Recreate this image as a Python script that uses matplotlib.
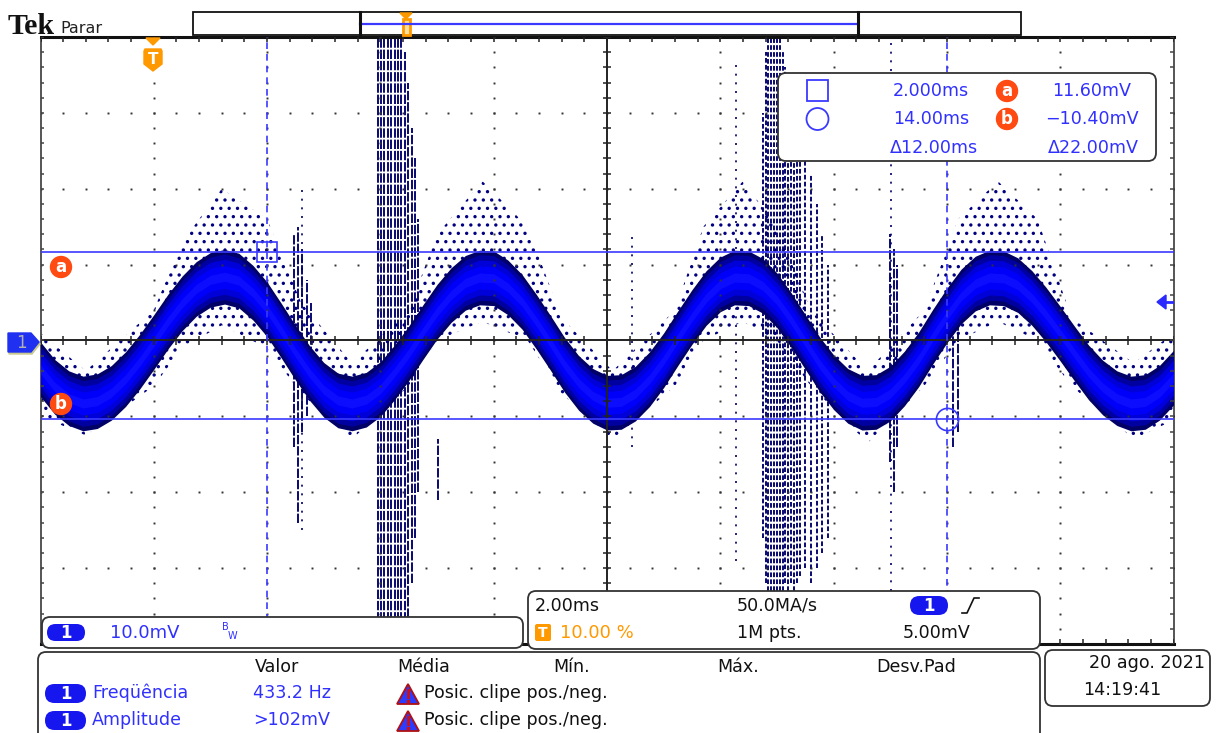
import numpy as np
import matplotlib
matplotlib.use("Agg")
import matplotlib.pyplot as plt
from matplotlib.patches import FancyBboxPatch, Polygon, Rectangle, Circle

plt.rcParams["font.family"] = ["DejaVu Sans"]
plt.rcParams["hatch.linewidth"] = 1.2

W, H = 1217, 733

# scope settings
t_div = 2.0      # ms / div
v_div = 10.0     # mV / div
t_left, t_right = -2.0, 18.0
v_low, v_high = -40.0, 40.0

# centre of the trace band, read every 0.25 ms
trace_t = np.linspace(-2.0, 18.0, 81)
trace_mv = [-3.8, -6.1, -7.6, -8.3, -8.0, -6.9, -5.1, -2.8, -0.2, 2.5,
            4.9, 6.8, 8.0, 8.4, 7.9, 6.3, 4.1, 1.3, -1.6, -4.3,
            -6.5, -7.9, -8.3, -7.8, -6.4, -4.2, -1.7, 1.1, 3.8, 6.0,
            7.6, 8.3, 8.2, 7.0, 5.1, 2.5, -0.3, -3.2, -5.6, -7.3,
            -8.2, -8.1, -7.0, -5.1, -2.6, 0.3, 3.1, 5.6, 7.4, 8.3,
            8.2, 7.2, 5.3, 2.7, -0.2, -3.1, -5.5, -7.3, -8.2, -8.1,
            -7.0, -5.0, -2.5, 0.5, 3.3, 5.8, 7.5, 8.3, 8.2, 7.3,
            5.6, 3.4, 0.9, -1.7, -4.2, -6.2, -7.6, -8.3, -8.1, -6.9,
            -4.9]

# envelope of the scattered noise dots around the band
noise_t = [-2.0, -1.2, 0.0, 0.5, 1.2, 2.0, 2.6, 3.5, 4.5, 5.0, 5.8, 6.6, 7.2, 8.1,
           9.2, 9.7, 10.4, 11.0, 11.6, 12.6, 13.6, 14.2, 14.9, 15.6, 16.2, 17.3, 18.0]
noise_top = [1, -4, 4, 13, 20, 16, 5, -3, 4, 14, 21, 15, 3, -4,
             4, 15, 21, 15, 4, -4, 4, 16, 21, 16, 3, -3, 1]
noise_bot = [-10, -12.5, -6, -1, 2, -1, -7, -13, -6, 0, 2.5, 0, -7, -13,
             -6, 0, 2.5, 0, -6, -13.5, -6, 0, 2.5, 0, -6, -13, -10.5]

# clean glitch streaks (first burst and small ones)
streak_t = [3.95, 4.01, 4.07, 4.13, 4.19, 4.25, 4.31, 4.37, 4.43,
            4.49, 4.55, 4.61, 4.67,
            2.48, 2.55, 2.62, 2.70, 2.78,
            5.02, 13.00, 13.06, 13.12, 14.10, 14.20]
streak_lo = [-40, -40, -40, -40, -40, -40, -40, -40, -40,
             -38, -32, -26, -20,
             -14, -24, -12, -10, -8,
             -21, -16, -20, -14, -14, -12]
streak_hi = [40, 40, 40, 40, 40, 40, 40, 40, 38,
             34, 28, 24, 16,
             14, 15, 12, 8, 5,
             -13, 14, 12, 10, 6, 4]

# speckled glitch burst around 11 ms
speck_t = [10.75, 10.80, 10.85, 10.90, 10.95, 11.00, 11.05, 11.10, 11.15,
           11.20, 11.25, 11.30, 11.35, 11.40, 11.50, 11.60, 11.70, 11.80, 11.90]
speck_lo = [-26, -32, -33, -33, -33, -33, -33, -33, -32,
            -33, -32, -33, -32, -31, -30, -32, -30, -28, -26]
speck_hi = [30, 38, 40, 40, 40, 40, 40, 38, 36,
            34, 33, 30, 28, 26, 24, 22, 18, 14, 10]

# sparse dotted columns
sparse_t = [13.02, 10.27, 2.62, 8.45]
sparse_lo = [-33, -29, -25, -14]
sparse_hi = [40, 37, 20, 14]

# cursors
cursor_t = [2.0, 14.0]
cursor_v = [11.6, -10.4]

readout_left = ["2.000ms", "14.00ms", "\u039412.00ms"]
readout_right = ["11.60mV", "\u221210.40mV", "\u039422.00mV"]
meas_headers = ["Valor", "Média", "Mín.", "Máx.", "Desv.Pad"]
meas_names = ["Freqüência", "Amplitude"]
meas_values = ["433.2 Hz", ">102mV"]

BLUE_TXT = "#3030ff"
BADGE = "#1616ee"
ORANGE = "#ff9900"
RED = "#ff4a12"
NAVY = "#00006a"

fig = plt.figure(figsize=(W / 100, H / 100), dpi=100, facecolor="white")

g_left, g_right, g_top, g_bot = 40.5, 1173.5, 37.0, 644.0
ax = fig.add_axes([g_left / W, 1 - g_bot / H, (g_right - g_left) / W, (g_bot - g_top) / H])
ax.set_xlim(t_left, t_right)
ax.set_ylim(v_low, v_high)
ax.set_xticks([])
ax.set_yticks([])
ax.set_facecolor("white")
for side in ["top", "bottom"]:
    ax.spines[side].set_color("#111111")
    ax.spines[side].set_linewidth(2.2)
for side in ["left", "right"]:
    ax.spines[side].set_color("#555555")
    ax.spines[side].set_linewidth(1.4)

# noise haze
ax.fill_between(noise_t, noise_bot, noise_top, facecolor="none",
                edgecolor="#000080", hatch="..", linewidth=0, zorder=1)
# glitches
ax.vlines(streak_t, streak_lo, streak_hi, colors=NAVY, linewidth=1.35,
          linestyles=(0, (5, 1.0)), zorder=2)
ax.vlines(speck_t, speck_lo, speck_hi, colors=NAVY, linewidth=1.35,
          linestyles=(0, (2.5, 1.2)), zorder=2)
ax.vlines(sparse_t, sparse_lo, sparse_hi, colors=NAVY, linewidth=1.2,
          linestyles=(0, (1.2, 4)), zorder=2)

# band, darker edges -> bright centre
centre = np.array(trace_mv)
for half, col in [(3.6, "#000066"), (3.0, "#0000a0"), (2.3, "#0000d8"),
                  (1.5, "#0000fa"), (0.6, "#0c0cff")]:
    ax.fill_between(trace_t, centre - half, centre + half, color=col, linewidth=0, zorder=3)

# graticule dots
grid_t = [t_left + k * t_div for k in range(1, 10) if k != 5]
grid_v = [v_low + k * v_div for k in range(1, 8) if k != 4]
fine_v = np.arange(v_low, v_high + 0.01, v_div / 5)
fine_t = np.arange(t_left, t_right + 0.01, t_div / 5)
gx, gy = np.meshgrid(grid_t, fine_v)
ax.plot(gx.ravel(), gy.ravel(), ls="none", marker="s", ms=1.4, color="#333333", mew=0, zorder=4)
hx, hy = np.meshgrid(fine_t, grid_v)
ax.plot(hx.ravel(), hy.ravel(), ls="none", marker="s", ms=1.4, color="#333333", mew=0, zorder=4)

# centre cross with ticks
t_mid = (t_left + t_right) / 2
ax.axhline(0, color="#222222", lw=1.4, zorder=5)
ax.axvline(t_mid, color="#222222", lw=1.4, zorder=5)
ax.vlines(fine_t, -0.6, 0.6, color="#222222", lw=1.1, zorder=5)
ax.hlines(fine_v, t_mid - 0.07, t_mid + 0.07, color="#222222", lw=1.1, zorder=5)
# edge ticks
ax.vlines(fine_t, v_high - 0.6, v_high, color="#222222", lw=1.1, zorder=5)
ax.vlines(fine_t, v_low, v_low + 0.6, color="#222222", lw=1.1, zorder=5)
ax.hlines(fine_v, t_left, t_left + 0.07, color="#444444", lw=1.1, zorder=5)
ax.hlines(fine_v, t_right - 0.07, t_right, color="#444444", lw=1.1, zorder=5)

# cursors
for v in cursor_v:
    ax.axhline(v, color="#3a3aff", lw=1.2, zorder=6)
for t in cursor_t:
    ax.axvline(t, color="#3a3aff", lw=1.2, ls=(0, (4, 3)), zorder=6)
ax.plot(cursor_t[0], cursor_v[0], marker="s", ms=15, mfc="none", mec="#3a3aff", mew=1.2, zorder=7)
ax.plot(cursor_t[1], cursor_v[1], marker="o", ms=16, mfc="none", mec="#3a3aff", mew=1.2, zorder=7)

# ---------- overlay in pixel units ----------
ov = fig.add_axes([0, 0, 1, 1], zorder=10)
ov.set_xlim(0, W)
ov.set_ylim(H, 0)
ov.axis("off")
ov.patch.set_alpha(0)


def rbox(x, y, w, h, r=8, lw=1.3):
    ov.add_patch(FancyBboxPatch((x, y), w, h, boxstyle=f"round,pad=0,rounding_size={r}",
                                facecolor="white", edgecolor="#333333", lw=lw))


def badge(x, y, w, h, txt="1", col=BADGE, size=12):
    ov.add_patch(FancyBboxPatch((x, y), w, h, boxstyle=f"round,pad=0,rounding_size={h / 2}",
                                facecolor=col, edgecolor="none"))
    ov.text(x + w / 2, y + h / 2 + 0.5, txt, color="white", fontsize=size,
            fontweight="bold", ha="center", va="center")


def txt(x, y, s, col="#111111", ha="left", size=12.6, **kw):
    ov.text(x, y, s, color=col, fontsize=size, ha=ha, va="center", **kw)


# header
ov.text(8, 34, "Tek", fontsize=21.5, fontweight="bold", color="#111111",
        family=["Liberation Serif", "DejaVu Serif"], va="baseline")
ov.text(60, 33, "Parar", fontsize=11.5, color="#222222", va="baseline")

# record view bar
ov.add_patch(Rectangle((193, 12), 828, 23, facecolor="white", edgecolor="#111111", lw=1.3))
ov.plot([360, 858], [23.5, 23.5], color="#3a3aff", lw=1.6)
for xb in [360, 858]:
    ov.plot([xb, xb], [12, 35], color="#111111", lw=2.2)
ov.add_patch(Polygon([(400, 13), (412, 13), (406, 19)], color=ORANGE))
ov.add_patch(Rectangle((402.5, 19), 7, 16, facecolor="#ffe0a0", edgecolor=ORANGE, lw=2))

# trigger marker on graticule
ov.add_patch(Polygon([(146, 38), (160, 38), (153, 45)], color=ORANGE))
ov.add_patch(Polygon([(145, 49), (161, 49), (162, 51), (162, 64), (153, 71), (144, 64), (144, 51)],
                     color=ORANGE))
ov.text(153, 59, "T", color="white", fontsize=11, fontweight="bold", ha="center", va="center")

# channel marker left
ov.add_patch(Polygon([(9, 335), (32, 335), (40, 344), (32, 354), (9, 354)], color="#c8c890"))
ov.add_patch(Polygon([(8, 333), (31, 333), (39, 342), (31, 352), (8, 352)], color="#2030f0"))
ov.text(21, 343, "1", color="#b0b0b0", fontsize=12, ha="center", va="center")
# right offset marker
ov.add_patch(Polygon([(1157, 302), (1166, 295), (1166, 309)], color="#2a2aff"))
ov.plot([1164, 1172], [302, 302], color="#2a2aff", lw=2)

# cursor labels a / b
for yy, lab in [(267, "a"), (404, "b")]:
    ov.add_patch(Circle((61, yy), 10.5, color=RED))
    ov.text(61, yy, lab, color="white", fontsize=12, fontweight="bold", ha="center", va="center")

# cursor readout
rbox(778, 73, 378, 88)
ov.add_patch(Rectangle((807, 80), 21, 21, facecolor="none", edgecolor="#3a3aff", lw=1.3))
ov.add_patch(Circle((817.5, 119), 11, facecolor="none", edgecolor="#3a3aff", lw=1.3))
rows_y = [91, 119, 148]
for yy, s, xr in zip(rows_y, readout_left, [969, 969, 978]):
    txt(xr, yy, s, col=BLUE_TXT, ha="right")
for yy, s in zip(rows_y, readout_right):
    txt(1139 if s[0] != "1" else 1131, yy, s, col=BLUE_TXT, ha="right")
for yy, lab in [(91, "a"), (119, "b")]:
    ov.add_patch(Circle((1007, yy), 10.5, color=RED))
    ov.text(1007, yy, lab, color="white", fontsize=12, fontweight="bold", ha="center", va="center")

# bottom channel box
rbox(42, 617, 481, 31)
badge(47, 624, 38, 17)
txt(110, 633, "10.0mV", col=BLUE_TXT, size=13)
txt(222, 627, "B", col=BLUE_TXT, size=7)
txt(228, 636, "W", col=BLUE_TXT, size=7)

# timebase box
rbox(528, 591, 512, 58)
txt(535, 606, "2.00ms")
ov.add_patch(FancyBboxPatch((535, 624), 16, 17, boxstyle="round,pad=0,rounding_size=2",
                            facecolor=ORANGE, edgecolor="none"))
ov.text(543, 633, "T", color="white", fontsize=10, fontweight="bold", ha="center", va="center")
txt(560, 633, "10.00 %", col=ORANGE, size=13)
txt(737, 606, "50.0MA/s")
txt(737, 633, "1M pts.")
badge(910, 596, 38, 19)
ov.plot([962, 967, 974, 979], [613, 613, 598, 598], color="#111111", lw=1.2)
txt(903, 633, "5.00mV")

# measurement box
rbox(38, 652, 1002, 95)
for xx, s in zip([255, 397, 553, 717, 876], meas_headers):
    txt(xx, 667, s)
for yy, name, val in zip([693, 720], meas_names, meas_values):
    badge(45, yy - 9, 41, 19)
    txt(92, yy, name, col=BLUE_TXT)
    txt(253, yy, val, col=BLUE_TXT)
    ov.add_patch(Polygon([(397, yy + 11), (408, yy - 9), (419, yy + 11)],
                         facecolor="#2a3cff", edgecolor="#b01010", lw=1.3))
    ov.plot([408, 408], [yy - 3, yy + 4], color="#d01010", lw=2)
    ov.plot([408], [yy + 7.5], marker="s", ms=2, color="#d01010")
    txt(424, yy, "Posic. clipe pos./neg.")

# date box
rbox(1045, 650, 165, 56)
txt(1205, 663, "20 ago. 2021", ha="right")
txt(1083, 690, "14:19:41")

fig.savefig("out.png", dpi=100, facecolor="white")
